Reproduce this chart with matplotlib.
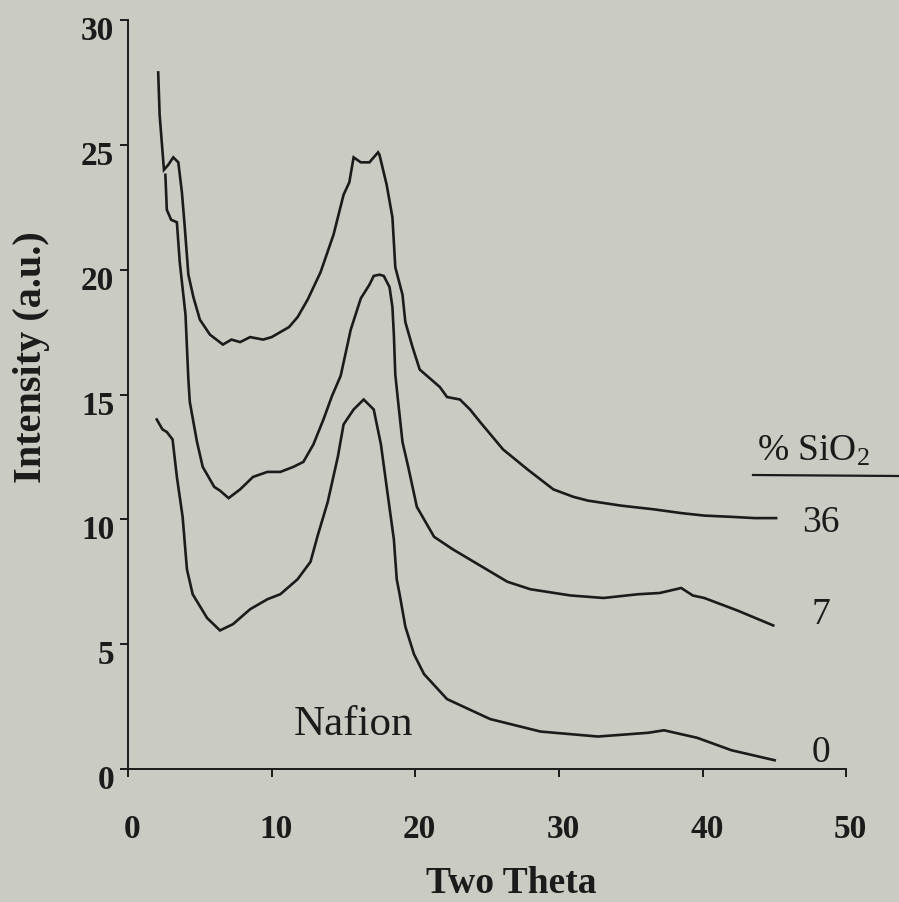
import matplotlib
matplotlib.use('Agg')
import matplotlib.pyplot as plt
from matplotlib.transforms import ScaledTranslation
from matplotlib.lines import Line2D

# 36 % SiO2
x36 = [2.1, 2.2, 2.35, 2.5, 2.8, 3.15, 3.5, 3.75, 3.95, 4.2, 4.55, 5.0, 5.7, 6.6,
       7.2, 7.8, 8.5, 9.4, 10.0, 10.6, 11.2, 11.8, 12.5, 13.4, 14.3, 15.0, 15.4,
       15.7, 16.2, 16.8, 17.4, 17.5, 18.0, 18.4, 18.6, 19.1, 19.3, 19.8, 20.3,
       20.8, 21.7, 22.2, 23.1, 23.8, 24.5, 26.1, 27.8, 29.6, 31.0, 32.0, 34.3,
       36.6, 38.5, 40.1, 42.0, 43.6, 45.1]
y36 = [27.9, 26.2, 25.1, 24.0, 24.2, 24.5, 24.3, 23.1, 21.7, 19.8, 18.9, 18.0, 17.4, 17.0,
       17.2, 17.1, 17.3, 17.2, 17.3, 17.5, 17.7, 18.1, 18.8, 19.9, 21.4, 23.0, 23.5,
       24.5, 24.3, 24.3, 24.7, 24.6, 23.4, 22.1, 20.1, 19.0, 17.9, 16.9, 16.0,
       15.75, 15.3, 14.9, 14.8, 14.4, 13.9, 12.8, 12.0, 11.2, 10.9, 10.75, 10.55,
       10.4, 10.25, 10.15, 10.1, 10.05, 10.05]

# 7 % SiO2
x7 = [2.6, 2.7, 3.0, 3.4, 3.6, 4.0, 4.2, 4.3, 4.8, 5.2, 5.5, 6.0, 6.4, 7.0, 7.8,
      8.7, 9.7, 10.6, 11.5, 12.2, 12.9, 13.6, 14.2, 14.8, 15.5, 16.2, 16.8, 17.1,
      17.5, 17.8, 18.2, 18.4, 18.5, 18.6, 18.8, 19.1, 19.5, 20.1, 20.3, 21.3,
      22.6, 24.5, 26.4, 28.0, 30.8, 33.1, 35.5, 37.0, 38.5, 39.3, 40.1, 42.4, 44.9]
y7 = [23.8, 22.4, 22.0, 21.9, 20.3, 18.2, 15.6, 14.7, 13.1, 12.1, 11.8, 11.3, 11.15, 10.85, 11.2,
      11.7, 11.9, 11.9, 12.1, 12.3, 13.0, 14.0, 14.95, 15.75, 17.6, 18.85, 19.4, 19.75,
      19.8, 19.75, 19.3, 18.5, 17.4, 15.8, 14.7, 13.1, 12.1, 10.5, 10.3, 9.3,
      8.8, 8.15, 7.5, 7.2, 6.95, 6.85, 7.0, 7.05, 7.25, 6.95, 6.85, 6.35, 5.75]

# 0 % SiO2 (Nafion)
x0 = [2.0, 2.4, 2.7, 3.1, 3.4, 3.8, 4.1, 4.5, 5.5, 6.4, 7.3, 8.5, 9.7, 10.6, 11.8,
      12.7, 13.2, 13.9, 14.6, 15.0, 15.7, 16.4, 17.1, 17.6, 18.0, 18.5, 18.7, 18.9,
      19.3, 19.9, 20.6, 22.2, 25.2, 28.7, 32.7, 36.2, 37.3, 39.6, 42.0, 45.0]
y0 = [14.0, 13.6, 13.5, 13.2, 11.7, 10.1, 8.0, 7.0, 6.05, 5.55, 5.8, 6.4, 6.8, 7.0, 7.6,
      8.3, 9.35, 10.7, 12.5, 13.8, 14.4, 14.8, 14.4, 13.0, 11.3, 9.2, 7.6, 7.0,
      5.7, 4.6, 3.8, 2.8, 2.0, 1.5, 1.3, 1.45, 1.55, 1.25, 0.75, 0.35]

curve_labels = ['36', '7', '0']
label_y = [9.9, 6.2, 0.7]

bg = '#cacbc3'
ink = '#1b1b1b'
serif = ['Liberation Serif', 'DejaVu Serif']

# subscript in the same serif face
plt.rcParams['mathtext.fontset'] = 'custom'
plt.rcParams['mathtext.rm'] = 'Liberation Serif'
plt.rcParams['mathtext.it'] = 'Liberation Serif'
plt.rcParams['mathtext.default'] = 'rm'

fig = plt.figure(figsize=(8.99, 9.03), dpi=100, facecolor=bg)
ax = fig.add_axes([0.1424, 0.1473, 0.7992, 0.8294], facecolor=bg)

for xs, ys in [(x36, y36), (x7, y7), (x0, y0)]:
    ax.plot(xs, ys, color=ink, lw=1.9, solid_joinstyle='miter')

ax.set_xlim(0, 50)
ax.set_ylim(0, 30)
ax.set_xticks(range(0, 51, 10))
ax.set_yticks(range(0, 31, 5))
for s in ['top', 'right']:
    ax.spines[s].set_visible(False)
for s in ['left', 'bottom']:
    ax.spines[s].set_linewidth(1.4)
    ax.spines[s].set_color(ink)
ax.tick_params(direction='out', length=6, width=1.4, color=ink)
ax.tick_params(axis='x', pad=26)
ax.tick_params(axis='y', pad=4)
for lab in ax.get_xticklabels() + ax.get_yticklabels():
    lab.set_family(serif)
    lab.set_fontweight('bold')
    lab.set_fontsize(24)
    lab.set_color(ink)
for lab in ax.get_yticklabels():
    lab.set_transform(lab.get_transform() + ScaledTranslation(0, -0.07, fig.dpi_scale_trans))
for lab in ax.get_xticklabels():
    lab.set_transform(lab.get_transform() + ScaledTranslation(0.04, 0, fig.dpi_scale_trans))

# axis titles
fig.text(511 / 899, 1 - 893 / 903, 'Two Theta', ha='center', va='baseline',
         family=serif, fontweight='bold', fontsize=27, color=ink)
fig.text(32 / 899, 1 - 357 / 903, 'Intensity (a.u.)', ha='center', va='center',
         rotation=90, family=serif, fontweight='bold', fontsize=29, color=ink)

# annotations
ax.text(11.5, 1.4, 'Nafion', ha='left', va='baseline', family=serif,
        fontsize=31, color=ink)
for lab, yy in zip(curve_labels, label_y):
    ax.text(48.2, yy, lab, ha='center', va='center', family=serif,
            fontsize=27, color=ink, clip_on=False)
ax.text(43.8, 12.4, '% SiO$_2$', ha='left', va='baseline', family=serif,
        fontsize=27, color=ink, clip_on=False)
fig.add_artist(Line2D([753 / 899, 1.0], [1 - 476 / 903, 1 - 477 / 903],
                      color=ink, lw=1.6))

plt.savefig('out.png', dpi=100, facecolor=bg)
